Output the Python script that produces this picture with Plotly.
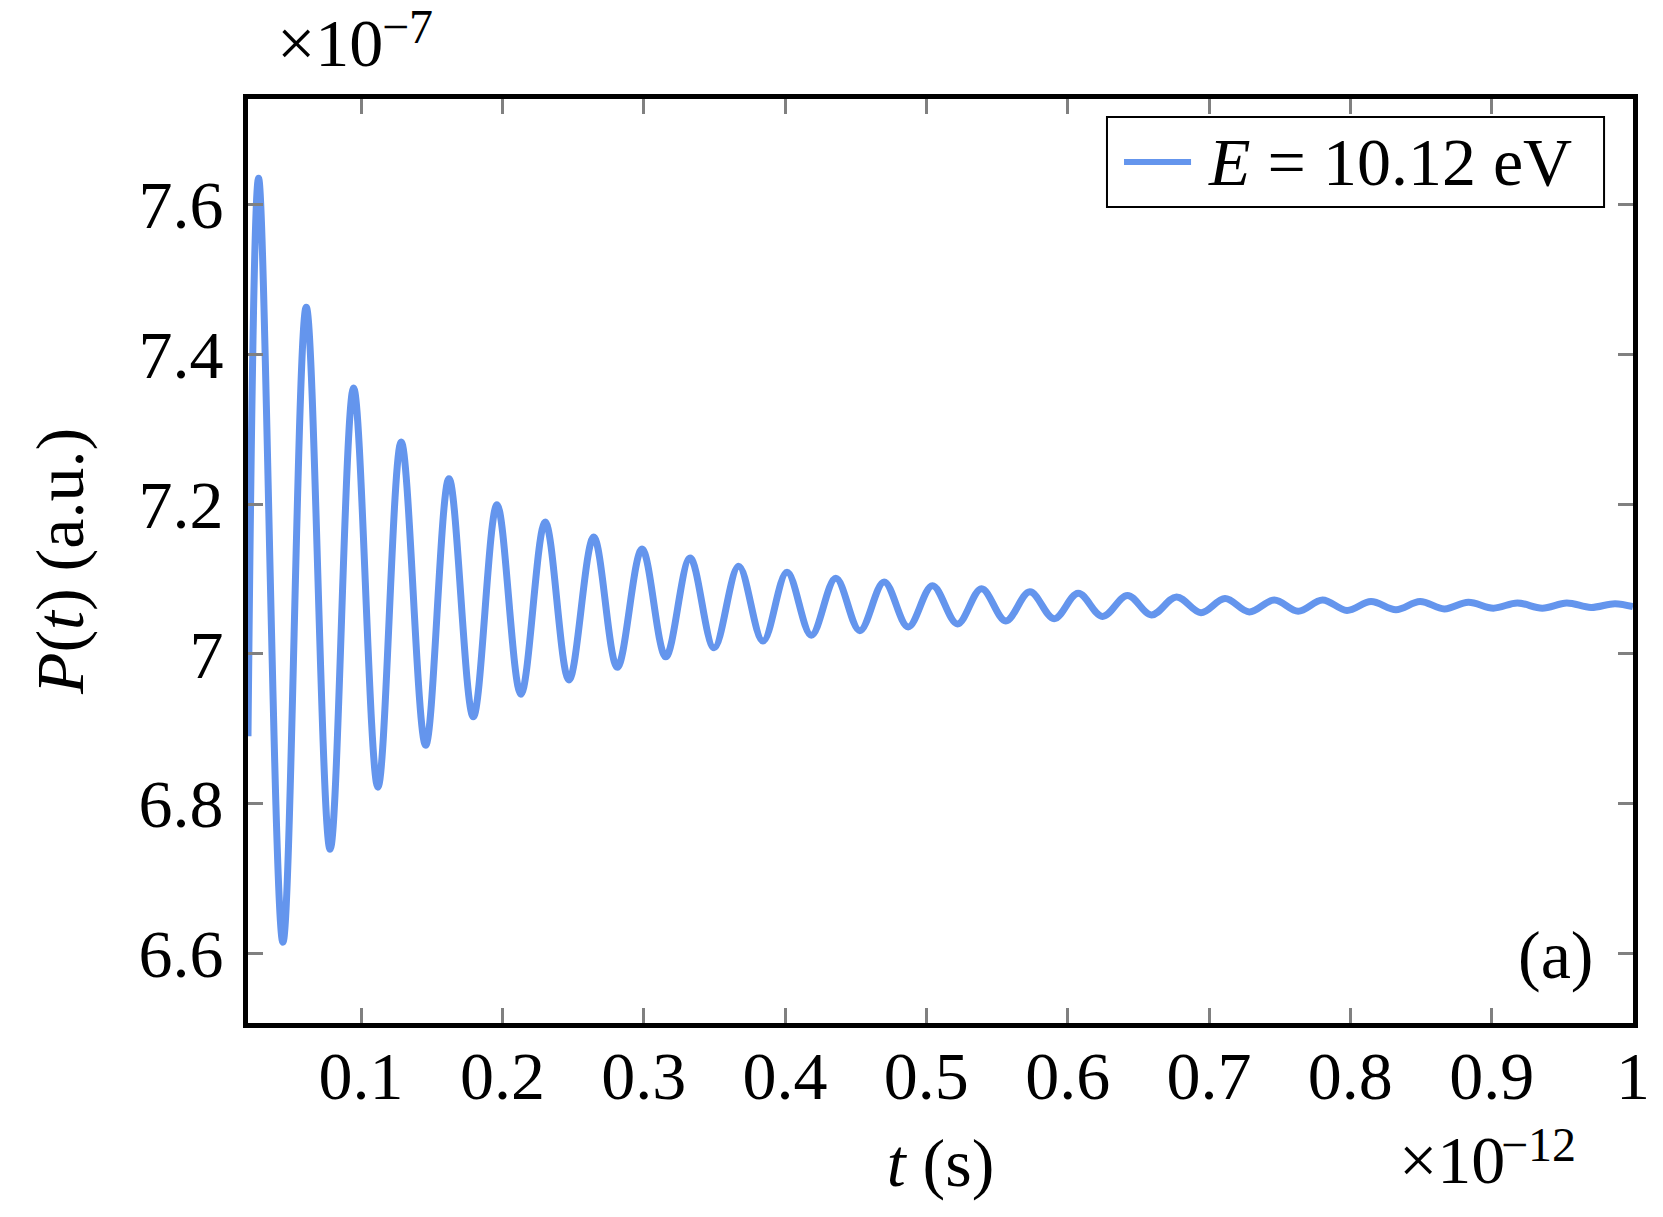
import plotly.graph_objects as go

# time in units of 1e-12 s, P in units of 1e-7 (a.u.)
t_start, p_start = 0.0200, 6.890
t_end, p_end = 1.0000, 7.063

t_peak = [0.0275, 0.0612, 0.0947, 0.1284, 0.1622, 0.1962, 0.2303, 0.2646, 0.2988, 0.3328,
          0.3672, 0.4014, 0.4359, 0.4701, 0.5043, 0.5390, 0.5732, 0.6074, 0.6423, 0.6770,
          0.7113, 0.7462, 0.7803, 0.8146, 0.8493, 0.8835, 0.9182, 0.9531, 0.9873]
p_peak = [7.635, 7.463, 7.355, 7.283, 7.234, 7.199, 7.176, 7.156, 7.140, 7.128,
          7.117, 7.109, 7.101, 7.096, 7.091, 7.087, 7.083, 7.081, 7.078, 7.076,
          7.074, 7.072, 7.072, 7.070, 7.070, 7.069, 7.068, 7.068, 7.067]

t_trough = [0.0447, 0.0781, 0.1119, 0.1457, 0.1794, 0.2131, 0.2471, 0.2813, 0.3156, 0.3498,
            0.3844, 0.4186, 0.4529, 0.4871, 0.5220, 0.5562, 0.5904, 0.6246, 0.6593, 0.6943,
            0.7285, 0.7631, 0.7976, 0.8323, 0.8665, 0.9012, 0.9358, 0.9703]
p_trough = [6.615, 6.739, 6.822, 6.878, 6.916, 6.946, 6.965, 6.982, 6.996, 7.008,
            7.017, 7.025, 7.031, 7.036, 7.040, 7.044, 7.047, 7.050, 7.052, 7.055,
            7.056, 7.057, 7.058, 7.059, 7.060, 7.061, 7.061, 7.062]

x_ticks = [0.1, 0.2, 0.3, 0.4, 0.5, 0.6, 0.7, 0.8, 0.9, 1.0]
x_labels = ["0.1", "0.2", "0.3", "0.4", "0.5", "0.6", "0.7", "0.8", "0.9", "1"]
y_ticks = [6.6, 6.8, 7.0, 7.2, 7.4, 7.6]
y_labels = ["6.6", "6.8", "7", "7.2", "7.4", "7.6"]

# put the extrema in time order
pts = sorted(list(zip(t_peak, p_peak)) + list(zip(t_trough, p_trough)))
t = [t_start] + [a for a, b in pts] + [t_end]
p = [p_start] + [b for a, b in pts] + [p_end]

blue = "#6495ED"
font = "Liberation Serif"
fs = 68
fs_exp = 48

fig = go.Figure()
fig.add_trace(go.Scatter(x=t, y=p, mode="lines", name="E = 10.12 eV",
                         line=dict(color=blue, width=7, shape="spline", smoothing=1.0),
                         showlegend=False))

axis = dict(showline=True, linecolor="black", linewidth=5, mirror="ticks",
            ticks="inside", ticklen=15, tickwidth=3, tickcolor="#808080",
            showgrid=False, zeroline=False, automargin=False,
            tickfont=dict(family=font, size=fs, color="black"))

fig.update_xaxes(axis, range=[0.02, 1.0], tickvals=x_ticks, ticktext=x_labels,
                 ticklabelstandoff=-11,
                 title=dict(text="<i>t</i> (s)", font=dict(family=font, size=fs), standoff=27))
fig.update_yaxes(axis, range=[6.507, 7.741], tickvals=y_ticks, ticktext=y_labels,
                 ticklabelstandoff=6,
                 title=dict(text="<i>P</i>(<i>t</i>) (a.u.)", font=dict(family=font, size=fs), standoff=34))

# legend box drawn by hand so the sample line matches the long stroke
fig.add_shape(type="rect", xref="paper", yref="paper", x0=0.6202, x1=0.9791, y0=0.8831, y1=0.9805,
              line=dict(color="black", width=2), fillcolor="white", layer="above")
fig.add_shape(type="line", xref="paper", yref="paper", x0=0.6325, x1=0.6809, y0=0.9318, y1=0.9318,
              line=dict(color=blue, width=6), layer="above")
fig.add_annotation(xref="paper", yref="paper", x=0.6917, y=0.9318, xanchor="left", yanchor="middle",
                   text="<i>E</i> = 10.12 eV", showarrow=False,
                   font=dict(family=font, size=fs, color="black"))

fig.add_annotation(xref="paper", yref="paper", x=0.9437, y=0.0736, xanchor="center", yanchor="middle",
                   text="(a)", showarrow=False,
                   font=dict(family=font, size=fs, color="black"))

# axis multipliers: base and exponent as two pieces
fig.add_annotation(xref="paper", yref="paper", x=0.0195, y=1.0173, xanchor="left", yanchor="bottom",
                   text="×10", showarrow=False, font=dict(family=font, size=fs, color="black"))
fig.add_annotation(xref="paper", yref="paper", x=0.0950, y=1.048, xanchor="left", yanchor="bottom",
                   text="−7", showarrow=False, font=dict(family=font, size=fs_exp, color="black"))
fig.add_annotation(xref="paper", yref="paper", x=0.8296, y=-0.1916, xanchor="left", yanchor="bottom",
                   text="×10", showarrow=False, font=dict(family=font, size=fs, color="black"))
fig.add_annotation(xref="paper", yref="paper", x=0.9030, y=-0.1623, xanchor="left", yanchor="bottom",
                   text="−12", showarrow=False, font=dict(family=font, size=fs_exp, color="black"))

fig.update_layout(width=1663, height=1217, margin=dict(l=240, r=38, t=91, b=202),
                  paper_bgcolor="white", plot_bgcolor="white",
                  font=dict(family=font, size=fs, color="black"))

fig.write_html("out.html")
